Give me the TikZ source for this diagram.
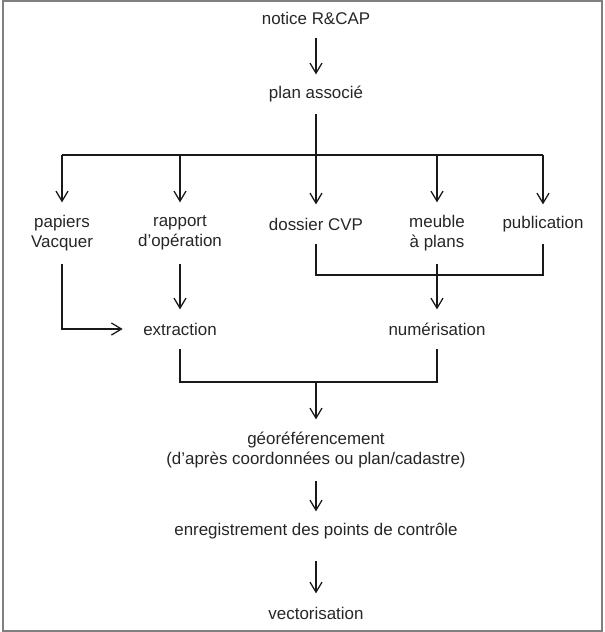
\documentclass[tikz,border=0pt]{standalone}
\usepackage{fontspec}
\setmainfont{Liberation Sans}
\usepackage{xcolor}
\usetikzlibrary{arrows.meta}

\tikzset{
  etape/.style={font=\fontsize{12.7}{15}\selectfont, align=center, inner sep=0pt, minimum height=28.5pt, text=black!85},
  etapedeux/.style={etape, minimum height=45pt},
  fleche/.style={-{Straight Barb[length=7.5pt, width=9pt]}},
}

\begin{document}
\begin{tikzpicture}[x=0.75pt, y=-0.75pt, line width=0.95pt, draw=black!90]
     \useasboundingbox (0,0) rectangle (604,632);
     \draw[gray, line width=1.2pt] (3,1) rectangle (602,631);

     \node[etape] (notice) at (316,18) {notice R\&CAP};
     \node[etape] (plan) at (316,94) {plan associé};
     \node[etapedeux] (papiers) at (62,233) {papiers\\Vacquer};
     \node[etapedeux] (rapport) at (180,233) {rapport\\d'opération};
     \node[etape] (dossier) at (316,224) {dossier CVP};
     \node[etapedeux] (meuble) at (437,233) {meuble\\à plans};
     \node[etape] (publication) at (543,224) {publication};
     \node[etape] (extraction) at (180,329) {extraction};
     \node[etape] (numerisation) at (437,329) {numérisation};
     \node[etapedeux] (georef) at (316,450) {géoréférencement\\(d'après coordonnées ou plan/cadastre)};
     \node[etape] (enreg) at (316,531) {enregistrement des points de contrôle};
     \node[etape] (vecto) at (316,613) {vectorisation};

     \coordinate (haut) at (316,155);
     \coordinate (milieu) at (316,382);
     \coordinate (droite) at (316,275);

     \draw[fleche] (notice) -- (plan);
     \draw (plan) -- (haut);
     \draw (papiers.north |- haut) -- (publication.north |- haut);
     \draw[fleche] (papiers.north |- haut) -- (papiers);
     \draw[fleche] (rapport.north |- haut) -- (rapport);
     \draw[fleche] (haut) -- (dossier);
     \draw[fleche] (meuble.north |- haut) -- (meuble);
     \draw[fleche] (publication.north |- haut) -- (publication);

     \draw[fleche, shorten >=15pt] (papiers) |- (extraction.west);
     \draw[fleche] (rapport) -- (extraction);
     \draw (dossier) |- (droite -| publication) -- (publication);
     \draw[fleche] (meuble) -- (numerisation);

     \draw (extraction) |- (milieu -| numerisation) -- (numerisation);
     \draw[fleche] (milieu) -- (georef);
     \draw[fleche] (georef) -- (enreg);
     \draw[fleche, shorten <=7.5pt] (enreg) -- (vecto);
\end{tikzpicture}
\end{document}
